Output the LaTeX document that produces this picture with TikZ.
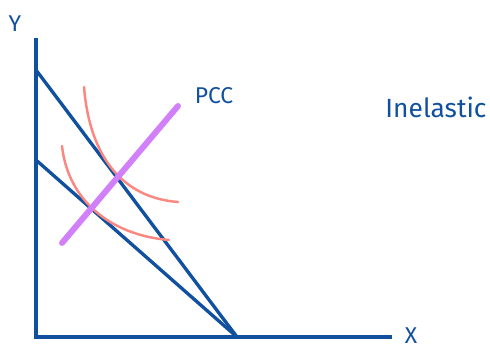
\documentclass[tikz,border=0pt]{standalone}
\usepackage{fontspec}
\setmainfont{Fira Sans}
\definecolor{axisblue}{RGB}{16,80,158}
\definecolor{icred}{RGB}{250,135,128}
\definecolor{pccpurple}{RGB}{210,128,250}
\tikzset{
  budget/.style={axisblue,line width=1.9pt},
  indiff/.style={icred,line width=1.4pt,line cap=round},
  pccline/.style={pccpurple,line width=3.4pt,line cap=round},
  lbl/.style={axisblue,inner sep=1pt,font=\fontsize{13}{15}\selectfont}
}
\begin{document}
\begin{tikzpicture}[x=0.02cm,y=-0.02cm]
	\useasboundingbox (0,0) rectangle (490,350);
	\coordinate (O) at (36,337);
	\coordinate (Ytop) at (36,38);
	\coordinate (Xend) at (392,337);
	\coordinate (A1) at (36,70);
	\coordinate (A2) at (36,160);
	\coordinate (B) at (237,337);
	\draw[budget] (Ytop) -- (O) -- (Xend);
	\draw[budget] (A1) -- (B);
	\draw[budget] (A2) -- (B);
	\draw[indiff] (84,87) .. controls (90,160) and (125,198) .. (178,202);
	\draw[indiff] (62,146) .. controls (68,200) and (110,235) .. (169,240);
	\draw[pccline] (62,243) -- (178,106);
	\node[lbl] (ylab) at (15,24) {Y};
	\node[lbl] (xlab) at (411,336) {X};
	\node[lbl] (pcclab) at (214,96) {PCC};
	\node[lbl,font=\fontsize{15}{17}\selectfont] (elab) at (436,107) {Inelastic};
\end{tikzpicture}
\end{document}
